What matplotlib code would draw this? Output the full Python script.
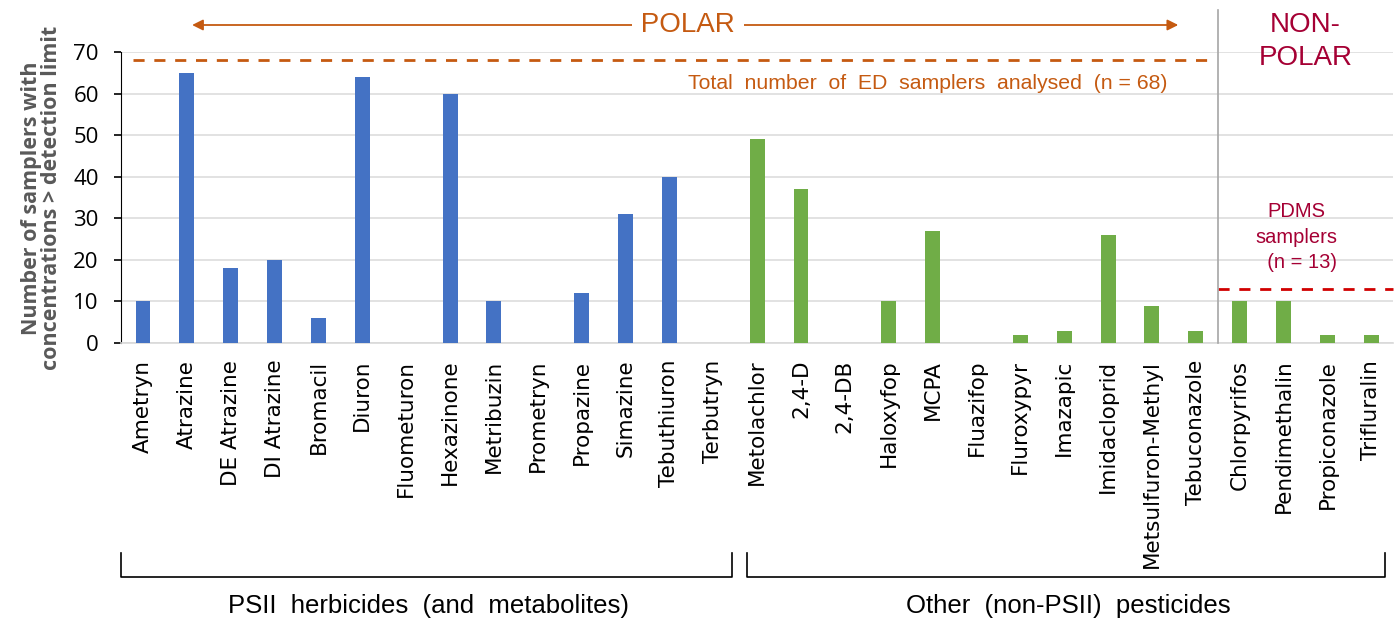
import numpy as np
import matplotlib.pyplot as plt
from matplotlib.lines import Line2D

# pesticides detected in ED / PDMS passive samplers
psii = ["Ametryn", "Atrazine", "DE Atrazine", "DI Atrazine", "Bromacil", "Diuron",
        "Fluometuron", "Hexazinone", "Metribuzin", "Prometryn", "Propazine",
        "Simazine", "Tebuthiuron", "Terbutryn"]
psii_counts = [10, 65, 18, 20, 6, 64, 0, 60, 10, 0, 12, 31, 40, 0]

other = ["Metolachlor", "2,4-D", "2,4-DB", "Haloxyfop", "MCPA", "Fluazifop",
         "Fluroxypyr", "Imazapic", "Imidacloprid", "Metsulfuron-Methyl",
         "Tebuconazole", "Chlorpyrifos", "Pendimethalin", "Propiconazole", "Trifluralin"]
other_counts = [49, 37, 0, 10, 27, 0, 2, 3, 26, 9, 3, 10, 10, 2, 2]

n_ed = 68
n_pdms = 13
group_labels = ["PSII  herbicides  (and  metabolites)", "Other  (non-PSII)  pesticides"]

BLUE = "#4472C4"
GREEN = "#70AD47"
ORANGE = "#C55A11"
CRIMSON = "#A50034"
RED = "#D00000"
NARROW = ["Liberation Sans Narrow", "Liberation Sans", "DejaVu Sans"]

labels = psii + other
x = np.arange(len(labels))
x_psii = x[:len(psii)]
x_other = x[len(psii):]
split = len(psii) + 10.5  # polar / non-polar boundary

fig = plt.figure(figsize=(13.96, 6.23), dpi=100)
ax = fig.add_axes([0.0867, 0.4494, 0.9113, 0.4671])

ax.bar(x_psii, psii_counts, width=0.34, color=BLUE, zorder=3)
ax.bar(x_other, other_counts, width=0.34, color=GREEN, zorder=3)

ax.set_xlim(-0.5, len(labels) - 0.5)
ax.set_ylim(0, 70)
ax.set_yticks(range(0, 71, 10))
ax.yaxis.grid(True, color="#DDDDDD", linewidth=1.2, zorder=0)
ax.set_axisbelow(True)

for s in ["top", "right"]:
    ax.spines[s].set_visible(False)
ax.spines["left"].set_color("black")
ax.spines["bottom"].set_color("#D9D9D9")
ax.spines["bottom"].set_linewidth(1.2)

ax.set_xticks(x)
ax.set_xticklabels(labels, rotation=90, fontsize=15.5, family="DejaVu Sans", va="top")
ax.tick_params(axis="x", length=0, pad=12)
ax.tick_params(axis="y", length=5, width=1.2, pad=11, labelsize=16)
for t in ax.get_yticklabels():
    t.set_family("Open Sans")

fig.text(0.0298, 0.682, "Number of samplers with\nconcentrations > detection limit",
         rotation=90, ha="center", va="center", fontsize=15.5, fontweight="bold",
         color="#595959", family="Open Sans", multialignment="center", linespacing=0.98)

# total ED samplers line
ax.plot([-0.23, split - 0.25], [n_ed, n_ed], ls=(0, (4, 3.5)), color=ORANGE, lw=2, zorder=4)
ax.text(17.9, 62.4, "Total  number  of  ED  samplers  analysed  (n = 68)",
        ha="center", va="center", color=ORANGE, fontsize=15.3, family=NARROW)

# PDMS line
ax.plot([split, len(labels) - 0.5], [n_pdms, n_pdms], ls=(0, (4, 3.5)), color=RED, lw=2,
        zorder=4, clip_on=False)
ax.text(26.3, 25.5, "PDMS\nsamplers\n  (n = 13)", ha="center", va="center",
        color=CRIMSON, fontsize=14.5, family=NARROW, linespacing=1.45)

# polar / non-polar divider
ax.plot([split, split], [0, 80.1], color="#A6A6A6", lw=1.2, clip_on=False, zorder=4)

# POLAR arrow
ax.annotate("", xy=(1.12, 76.5), xytext=(23.6, 76.5), xycoords="data",
            arrowprops=dict(arrowstyle="<|-|>", color=ORANGE, lw=1.3,
                            mutation_scale=16, shrinkA=0, shrinkB=0),
            annotation_clip=False)
ax.text(12.43, 76.5, " POLAR ", ha="center", va="center", color=ORANGE, fontsize=20,
        family=NARROW, bbox=dict(facecolor="white", edgecolor="none", pad=1), zorder=5,
        clip_on=False)
ax.text(26.5, 72.6, "NON-\nPOLAR", ha="center", va="center", color=CRIMSON, fontsize=20,
        family=NARROW, linespacing=1.35, clip_on=False)

# group brackets under the tick labels
def px_to_fig(px, py):
    return px / 1396, 1 - py / 623

for x0, x1, lab in [(121, 732, group_labels[0]), (747, 1385, group_labels[1])]:
    xs = [x0 / 1396, x0 / 1396, x1 / 1396, x1 / 1396]
    ys = [1 - 553 / 623, 1 - 577 / 623, 1 - 577 / 623, 1 - 553 / 623]
    fig.add_artist(Line2D(xs, ys, color="black", lw=1.2))
    cx, cy = px_to_fig((x0 + x1) / 2 + 2, 606)
    fig.text(cx, cy, lab, ha="center", va="center", fontsize=18.5, family=NARROW)

fig.savefig("out.png", dpi=100)
